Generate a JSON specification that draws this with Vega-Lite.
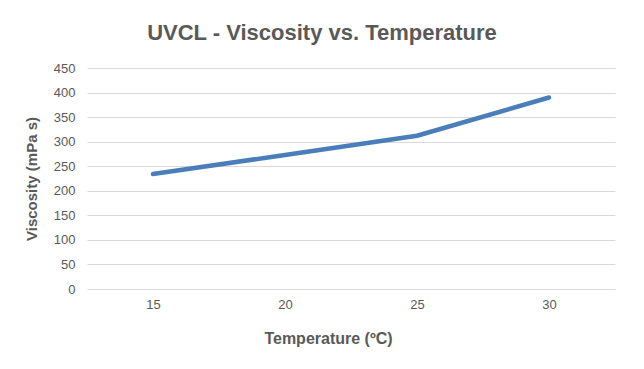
{
  "$schema": "https://vega.github.io/schema/vega-lite/v6.json",
  "autosize": {"type": "none"},
  "width": 528,
  "height": 221,
  "padding": {"left": 87, "top": 68, "right": 29, "bottom": 80},
  "background": "white",
  "title": {
    "text": "UVCL - Viscosity vs. Temperature",
    "font": "Liberation Sans",
    "fontSize": 22,
    "fontWeight": "bold",
    "color": "#595959",
    "anchor": "middle",
    "dx": -29,
    "offset": 17
  },
  "data": {
    "values": [
      {"temperature": "15", "viscosity": 234},
      {"temperature": "20", "viscosity": 273},
      {"temperature": "25", "viscosity": 312},
      {"temperature": "30", "viscosity": 390}
    ]
  },
  "mark": {"type": "line", "color": "#4a7ebb", "strokeWidth": 4.5, "strokeCap": "round", "strokeJoin": "round"},
  "encoding": {
    "x": {
      "field": "temperature",
      "type": "ordinal",
      "scale": {"type": "point", "padding": 0.5},
      "axis": {
        "title": "Temperature (ºC)",
        "labelAngle": 0,
        "domain": false,
        "ticks": false,
        "grid": false,
        "labelPadding": 9,
        "titlePadding": 19,
        "titleFontSize": 16,
        "titleX": 241
      }
    },
    "y": {
      "field": "viscosity",
      "type": "quantitative",
      "scale": {"domain": [0, 450], "nice": false},
      "axis": {
        "title": "Viscosity (mPa s)",
        "values": [0, 50, 100, 150, 200, 250, 300, 350, 400, 450],
        "domain": false,
        "ticks": false,
        "grid": true,
        "gridColor": "#d9d9d9",
        "gridWidth": 1,
        "labelPadding": 12,
        "titlePadding": 14,
        "titleFontSize": 15
      }
    }
  },
  "config": {
    "view": {"stroke": null},
    "axis": {
      "labelFont": "Liberation Sans",
      "labelFontSize": 13,
      "labelColor": "#595959",
      "titleFont": "Liberation Sans",
      "titleFontWeight": "bold",
      "titleColor": "#595959"
    }
  }
}
